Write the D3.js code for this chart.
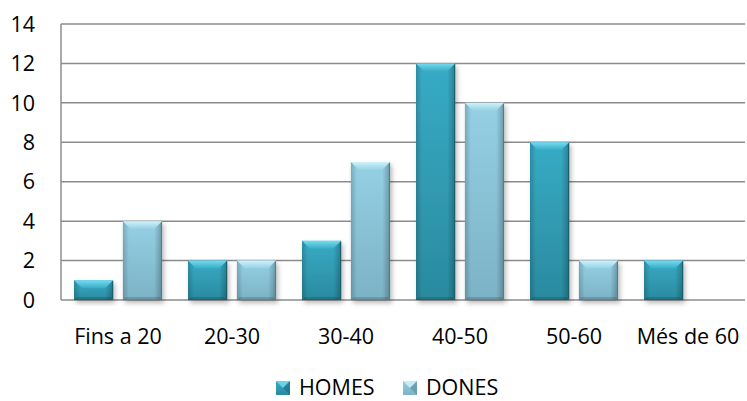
<!DOCTYPE html>
<html><head><meta charset="utf-8">
<script src="https://cdn.jsdelivr.net/npm/d3@7"></script>
<style>body{margin:0;background:#fff}svg{display:block}text{font-family:"Open Sans",sans-serif;fill:#000}</style>
</head><body>
<svg id="c" width="747" height="401"></svg>
<script>
const categories = ["Fins a 20","20-30","30-40","40-50","50-60","Més de 60"];
const seriesNames = ["HOMES","DONES"];
const homes = [1,2,3,12,8,2];
const dones = [4,2,7,10,2,0];
const yTicks = [0,2,4,6,8,10,12,14];

const svg = d3.select("#c");
const W=747,H=401, L=61, R=745, T=24, B=300;
const fs = 21.5;

const styles = {
  HOMES:{top:"#37abc5",bot:"#2a8a9f",bevel:"#74dbef",edge:"#1c5f6d"},
  DONES:{top:"#95d0e4",bot:"#7cb2c5",bevel:"#cdf2fa",edge:"#4f7f8e"}
};
const defs = svg.append("defs");
seriesNames.forEach(s=>{
  const g = defs.append("linearGradient").attr("id","g"+s).attr("x1",0).attr("x2",0).attr("y1",0).attr("y2",1);
  g.append("stop").attr("offset","0%").attr("stop-color",styles[s].top);
  g.append("stop").attr("offset","100%").attr("stop-color",styles[s].bot);
  const bv = defs.append("linearGradient").attr("id","b"+s).attr("x1",0).attr("x2",0).attr("y1",0).attr("y2",1);
  bv.append("stop").attr("offset","0%").attr("stop-color",styles[s].bevel);
  bv.append("stop").attr("offset","100%").attr("stop-color",styles[s].top);
});
const hg = defs.append("linearGradient").attr("id","hshade").attr("x1",0).attr("x2",1).attr("y1",0).attr("y2",0);
hg.append("stop").attr("offset","0%").attr("stop-color","#000").attr("stop-opacity",0.18);
hg.append("stop").attr("offset","15%").attr("stop-color","#000").attr("stop-opacity",0.0);
hg.append("stop").attr("offset","80%").attr("stop-color","#000").attr("stop-opacity",0.0);
hg.append("stop").attr("offset","100%").attr("stop-color","#000").attr("stop-opacity",0.25);
const f = defs.append("filter").attr("id","sh").attr("x","-20%").attr("y","-20%").attr("width","150%").attr("height","150%");
f.append("feDropShadow").attr("dx",2).attr("dy",3).attr("stdDeviation",2.5).attr("flood-color","#000").attr("flood-opacity",0.28);

const x0 = d3.scaleBand().domain(categories).range([L,R]).paddingInner(0.228).paddingOuter(0.114);
const x1 = d3.scaleBand().domain(seriesNames).range([0,x0.bandwidth()]).paddingInner(0.2);
const y = d3.scaleLinear().domain([0,14]).range([B,T]);

// gridlines
svg.append("g").selectAll("line").data(yTicks).join("line")
  .attr("x1",L).attr("x2",R).attr("y1",d=>y(d)).attr("y2",d=>y(d))
  .attr("stroke","#8c8c8c").attr("stroke-width",1.5);
svg.append("line").attr("x1",L).attr("x2",L).attr("y1",T).attr("y2",B).attr("stroke","#8c8c8c").attr("stroke-width",1.5);

// y labels
svg.append("g").selectAll("text").data(yTicks).join("text")
  .attr("x",35).attr("y",d=>y(d)).attr("dy","0.36em").attr("text-anchor","end")
  .style("font-size",fs+"px").text(d=>d);

// x labels
svg.append("g").selectAll("text").data(categories).join("text")
  .attr("x",d=>x0(d)+x0.bandwidth()/2).attr("y",344).attr("text-anchor","middle")
  .style("font-size",fs+"px").text(d=>d);

const data = [];
categories.forEach((c,i)=>{
  data.push({c,s:"HOMES",v:homes[i]});
  data.push({c,s:"DONES",v:dones[i]});
});

const bars = svg.append("g").selectAll("g").data(data.filter(d=>d.v>0)).join("g");
bars.each(function(d){
  const g = d3.select(this);
  const bx = x0(d.c)+x1(d.s), bw = x1.bandwidth();
  const by = y(d.v), bh = y(0)-y(d.v);
  const st = styles[d.s];
  const b = Math.min(8, bh/2.3);
  g.append("rect").attr("x",bx).attr("y",by).attr("width",bw).attr("height",bh)
    .attr("fill","url(#g"+d.s+")").attr("filter","url(#sh)");
  g.append("rect").attr("x",bx).attr("y",by).attr("width",bw).attr("height",bh)
    .attr("fill","url(#hshade)");
  g.append("path").attr("d",`M${bx},${by}L${bx+bw},${by}L${bx+bw-b},${by+b}L${bx+b},${by+b}Z`)
    .attr("fill","url(#b"+d.s+")");
  g.append("path").attr("d",`M${bx},${by+bh}L${bx+bw},${by+bh}L${bx+bw-3},${by+bh-3}L${bx+3},${by+bh-3}Z`)
    .attr("fill","#000").attr("opacity",0.15);
  g.append("line").attr("x1",bx+bw-0.5).attr("x2",bx+bw-0.5).attr("y1",by+1).attr("y2",by+bh)
    .attr("stroke",st.edge).attr("stroke-width",1.2);
  g.append("line").attr("x1",bx).attr("x2",bx+bw).attr("y1",by+bh-0.5).attr("y2",by+bh-0.5)
    .attr("stroke",st.edge).attr("stroke-width",1).attr("opacity",0.7);
});

// legend
const legend = [{s:"HOMES",x:276},{s:"DONES",x:403}];
const lg = svg.append("g").selectAll("g").data(legend).join("g");
lg.each(function(d){
  const g = d3.select(this);
  const sz = 14, ly = 381, st = styles[d.s];
  g.append("rect").attr("x",d.x).attr("y",ly).attr("width",sz).attr("height",sz).attr("fill","url(#g"+d.s+")");
  g.append("path").attr("d",`M${d.x},${ly}L${d.x+sz},${ly}L${d.x+sz/2},${ly+sz/2}Z`).attr("fill",st.bevel).attr("opacity",0.85);
  g.append("path").attr("d",`M${d.x+sz},${ly}L${d.x+sz},${ly+sz}L${d.x+sz/2},${ly+sz/2}Z`).attr("fill",st.edge).attr("opacity",0.5);
  g.append("text").attr("x",d.x+23).attr("y",395).style("font-size",fs+"px").text(d.s);
});
</script>
</body></html>
